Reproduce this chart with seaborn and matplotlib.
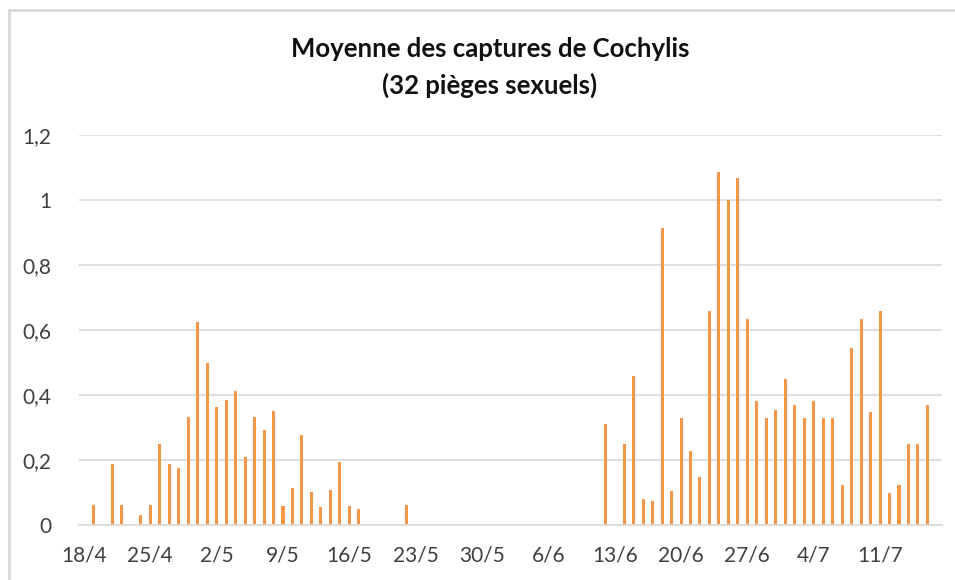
import pandas as pd
import seaborn as sns
import matplotlib.pyplot as plt
from matplotlib.lines import Line2D
import numpy as np

sns.set_style("white")
plt.rcParams['font.family'] = ['Lato', 'DejaVu Sans']

# dates de relevé (jour/mois) et moyenne des captures
jours = ['19/4', '21/4', '22/4', '24/4', '25/4', '26/4', '27/4', '28/4', '29/4', '30/4',
         '1/5', '2/5', '3/5', '4/5', '5/5', '6/5', '7/5', '8/5', '9/5', '10/5',
         '11/5', '12/5', '13/5', '14/5', '15/5', '16/5', '17/5', '22/5',
         '12/6', '14/6', '15/6', '16/6', '17/6', '18/6', '19/6', '20/6', '21/6', '22/6',
         '23/6', '24/6', '25/6', '26/6', '27/6', '28/6', '29/6', '30/6',
         '1/7', '2/7', '3/7', '4/7', '5/7', '6/7', '7/7', '8/7', '9/7', '10/7',
         '11/7', '12/7', '13/7', '14/7', '15/7', '16/7']
captures = [0.0625, 0.1875, 0.0625, 0.03125, 0.0625, 0.25, 0.1875, 0.175, 0.333, 0.625,
            0.5, 0.364, 0.386, 0.411, 0.21, 0.333, 0.292, 0.352, 0.059, 0.114,
            0.276, 0.103, 0.056, 0.107, 0.193, 0.059, 0.048, 0.0625,
            0.312, 0.25, 0.457, 0.079, 0.075, 0.913, 0.106, 0.33, 0.228, 0.149,
            0.66, 1.087, 1.0, 1.067, 0.634, 0.383, 0.33, 0.355,
            0.449, 0.37, 0.33, 0.383, 0.33, 0.33, 0.123, 0.544, 0.634, 0.347,
            0.66, 0.099, 0.123, 0.248, 0.248, 0.37]

# axe des dates : du 18/4 au 17/7, un jour par catégorie
dates = pd.date_range('2021-04-18', '2021-07-17', freq='D')
labels = [f'{d.day}/{d.month}' for d in dates]
df = pd.DataFrame({'jour': labels})
df['moyenne'] = df['jour'].map(dict(zip(jours, captures))).fillna(0)

fig = plt.figure(figsize=(9.55, 5.8), dpi=100)
ax = fig.add_axes([0.083, 0.0948, 0.903, 0.6724])

sns.barplot(data=df, x='jour', y='moyenne', order=labels, color='#F79646',
            saturation=1, width=0.32, linewidth=0, edgecolor='none', ax=ax)

ax.set_xlim(-0.5, len(labels) - 0.5)
ax.set_ylim(0, 1.2)
ax.set_yticks(np.arange(0, 1.21, 0.2))
ax.set_yticklabels(['0', '0,2', '0,4', '0,6', '0,8', '1', '1,2'])
ax.yaxis.grid(True, color='#D9D9D9', linewidth=1.2)
ax.set_axisbelow(True)

ax.set_xticks(range(0, len(labels), 7))
ax.set_xticklabels(labels[::7])
ax.set_xticks(np.arange(-0.5, len(labels), 7), minor=True)
ax.tick_params(axis='x', which='major', length=0, pad=15, labelsize=15, labelcolor='#404040')
ax.tick_params(axis='x', which='minor', length=6, width=1.2, color='#D9D9D9', direction='out')
ax.tick_params(axis='y', length=0, pad=20, labelsize=15, labelcolor='#404040')

for s in ['top', 'right', 'left']:
    ax.spines[s].set_visible(False)
ax.spines['bottom'].set_color('#D9D9D9')
ax.spines['bottom'].set_linewidth(1.2)

ax.set_xlabel('')
ax.set_ylabel('')

fig.text(0.513, 0.883, 'Moyenne des captures de Cochylis\n(32 pièges sexuels)',
         ha='center', va='center', fontsize=18.5, fontweight='bold',
         color='#111111', linespacing=1.55)

# cadre du graphique
fig.add_artist(Line2D([9 / 955, 9 / 955], [0, 1 - 10 / 580], color='#D9D9D9', linewidth=2))
fig.add_artist(Line2D([9 / 955, 1], [1 - 10 / 580, 1 - 10 / 580], color='#D9D9D9', linewidth=2))

fig.savefig('out.png', dpi=100)
